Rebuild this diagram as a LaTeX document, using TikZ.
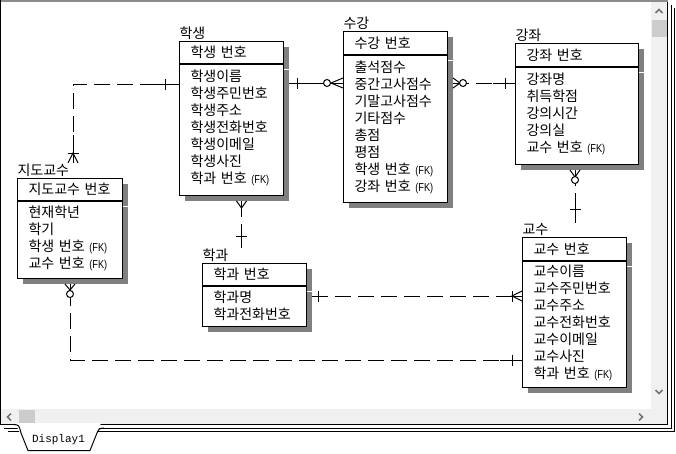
\documentclass[tikz,border=0pt]{standalone}
\usepackage{fontspec}
\setmainfont[WordSpace=2]{Noto Sans CJK KR}
\newfontfamily\fkfont{Liberation Sans}
\newfontfamily\tabfont{Liberation Mono}
\usetikzlibrary{positioning, shadows, calc, decorations.markings}

\newcommand{\fk}{{\fkfont\fontsize{11.5}{10}\selectfont\scalebox{0.8}[1]{(FK)}}}
\newcommand{\etext}{\fontsize{14}{17}\selectfont}
\newcommand{\lastrow}{\rule[-6pt]{0pt}{6pt}}

\begin{document}
\begin{tikzpicture}[x=1pt, y=-1pt, line width=1pt,
  ename/.style={inner sep=0pt, font=\etext},
  ehead/.style={draw, fill=white, anchor=north west, align=left, font=\etext,
                inner xsep=11pt, inner ysep=0pt, minimum height=22pt,
                drop shadow={shadow xshift=5pt, shadow yshift=-5pt, fill=black!50, opacity=1}},
  ebody/.style={draw, fill=white, align=left, font=\etext,
                inner xsep=11pt, inner ysep=0pt,
                drop shadow={shadow xshift=5pt, shadow yshift=-5pt, fill=black!50, opacity=1}},
  rel/.style={dash pattern=on 16pt off 7pt},
  stubS/.style={postaction={decorate, decoration={markings,
      mark=at position 0pt with {\draw[solid] (0pt,0pt) -- (#1pt,0pt);}}}},
  stubE/.style={postaction={decorate, decoration={markings,
      mark=at position -#1pt with {\draw[solid] (0pt,0pt) -- (#1pt,0pt);}}}},
  oneS/.style={postaction={decorate, decoration={markings,
      mark=at position #1pt with {\draw[solid] (0pt,-5.5pt) -- (0pt,5.5pt);}}}},
  oneE/.style={postaction={decorate, decoration={markings,
      mark=at position -#1pt with {\draw[solid] (0pt,-5.5pt) -- (0pt,5.5pt);}}}},
  crowS/.style={postaction={decorate, decoration={markings,
      mark=at position 0pt with {\draw[solid] (0pt,-5pt) -- (#1pt,0pt) -- (0pt,5pt);}}}},
  crowE/.style={postaction={decorate, decoration={markings,
      mark=at position -#1pt with {\draw[solid] (#1pt,-5pt) -- (0pt,0pt) -- (#1pt,5pt);}}}},
  zeroS/.style={postaction={decorate, decoration={markings,
      mark=at position #1pt with {\draw[solid, fill=white] (0pt,0pt) circle (3.5pt);}}}},
  zeroE/.style={postaction={decorate, decoration={markings,
      mark=at position -#1pt with {\draw[solid, fill=white] (0pt,0pt) circle (3.5pt);}}}}]

% window
\fill[white] (0,0) rectangle (676,453);
\useasboundingbox (0,0) rectangle (676,453);
\fill[black!6] (1,2) rectangle (667,424);
\fill[white] (1,2) rectangle (651,409);
\fill[black!45] (0,0) rectangle (668,2);
\draw (0.5,0) -- (0.5,425);
\fill[black!20] (652,20) rectangle (667,37);
\fill[black!20] (19,410) rectangle (35,424);
\draw[black!55, line width=1.5pt] (655.5,13) -- (659,9.5) -- (662.5,13);
\draw[black!55, line width=1.5pt] (655.5,390) -- (659,393.5) -- (662.5,390);
\draw[black!55, line width=1.5pt] (11,413.5) -- (7.5,417) -- (11,420.5);
\draw[black!55, line width=1.5pt] (639,413.5) -- (642.5,417) -- (639,420.5);
\draw (667.5,2) -- (667.5,424.5) -- (0,424.5);
\draw (671,5) -- (671,428) -- (4,428);
\draw[line width=1.5pt] (674.5,8) -- (674.5,431.5) -- (8,431.5);
\fill[white] (15,423) -- (20,433) -- (28,450.5) -- (90,450.5) -- (97,433) -- (101,423) -- cycle;
\draw (14,424.5) .. controls (19,425) .. (21,433) -- (28,450.5) -- (90,450.5)
  -- (97,433) .. controls (99,428.5) .. (104,428);
\node[font=\tabfont\fontsize{11}{11}\selectfont] (tab) at (58.5,440) {Display1};

% entities
\node[ehead, text width=82pt] (hs) at (179,41) {학생~번호};
\node[ebody, text width=82pt, minimum height=131pt, below=0pt of hs] (hsb)
  {학생이름\\학생주민번호\\학생주소\\학생전화번호\\학생이메일\\학생사진\\학과~번호~\fk\lastrow};
\node[ename, above right=1pt and 0pt of hs.north west] (hsl) {학생};

\node[ehead, text width=82pt, minimum height=23pt] (sg) at (343,31) {수강~번호};
\node[ebody, text width=82pt, minimum height=147pt, below=0pt of sg] (sgb)
  {출석점수\\중간고사점수\\기말고사점수\\기타점수\\총점\\평점\\학생~번호~\fk\\강좌~번호~\fk\lastrow};
\node[ename, above right=1pt and 0pt of sg.north west] (sgl) {수강};

\node[ehead, text width=101pt, minimum height=23pt] (gj) at (515,43) {강좌~번호};
\node[ebody, text width=101pt, minimum height=97pt, below=0pt of gj] (gjb)
  {강좌명\\취득학점\\강의시간\\강의실\\교수~번호~\fk\lastrow};
\node[ename, above right=1pt and 0pt of gj.north west] (gjl) {강좌};

\node[ehead, text width=83pt] (jd) at (17,178) {지도교수~번호};
\node[ebody, text width=83pt, minimum height=77pt, below=0pt of jd] (jdb)
  {현재학년\\학기\\학생~번호~\fk\\교수~번호~\fk\lastrow};
\node[ename, above right=1pt and 0pt of jd.north west] (jdl) {지도교수};

\node[ehead, text width=82pt] (hg) at (202,263) {학과~번호};
\node[ebody, text width=82pt, minimum height=40pt, below=0pt of hg] (hgb)
  {학과명\\학과전화번호\rule[-3pt]{0pt}{3pt}};
\node[ename, above right=1pt and 0pt of hg.north west] (hgl) {학과};

\node[ehead, text width=82pt, minimum height=23pt] (gs) at (522,237) {교수~번호};
\node[ebody, text width=82pt, minimum height=126pt, below=0pt of gs] (gsb)
  {교수이름\\교수주민번호\\교수주소\\교수전화번호\\교수이메일\\교수사진\\학과~번호~\fk\lastrow};
\node[ename, above right=1pt and 0pt of gs.north west] (gsl) {교수};

% relationships
\draw[rel, stubS=27, oneS=14, stubE=28, oneE=10, crowE=10]
  ($(hs.north west)+(0,43)$) -| ($(jd.north)+(3,-15)$);
\draw[rel, stubS=25, oneS=8, stubE=20, zeroE=16, crowE=12]
  ($(hs.north east)+(5,42)$) -- ($(sg.north west)+(0,52)$);
\draw[rel, stubS=16, crowS=7, zeroS=10, stubE=22, oneE=10]
  ($(sg.north east)+(5,52)$) -- ($(gj.north west)+(0,40)$);
\draw[rel, stubS=12, crowS=7, stubE=16, oneE=12]
  ($(hsb.south)+(10,5)$) -- ($(hgl.north -| hsb.south)+(10,0)$);
\draw[rel, stubS=14, crowS=7, zeroS=10, stubE=20, oneE=13]
  ($(gjb.south west)+(60,5)$) -- ($(gsl.north -| gjb.south west)+(60,0)$);
\draw[rel, stubS=14, oneS=6, stubE=22, oneE=10, crowE=10]
  ($(hgb.north east)+(5,10)$) -- ($(gsb.north west)+(0,35)$);
\draw[rel, stubS=22, oneS=10, stubE=16, zeroE=10, crowE=6]
  ($(gsb.north west)+(0,99)$) -| ($(jdb.south)+(0,5)$);
\end{tikzpicture}
\end{document}
